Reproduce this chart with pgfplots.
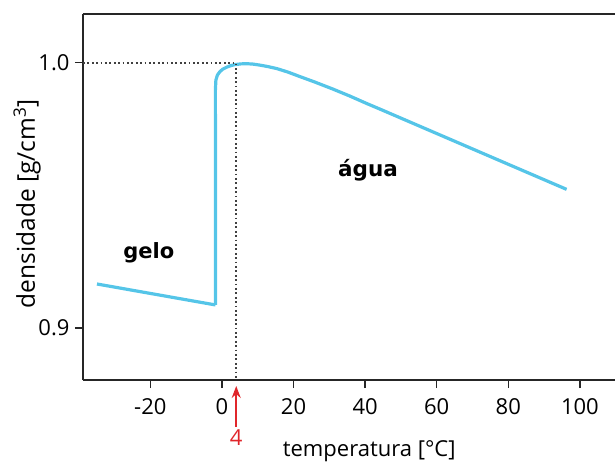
\documentclass[border=0pt]{standalone}
\usepackage{pgfplots}
\pgfplotsset{compat=1.18}
\usetikzlibrary{arrows.meta}
\usepackage{fontspec}
\setmainfont{Open Sans}
\newfontfamily\lblfont{DejaVu Sans}
\definecolor{agua}{HTML}{55C5E8}
\definecolor{seta}{HTML}{E0262B}

\begin{document}
\begin{tikzpicture}
\begin{axis}[
  name=ax,
  scale only axis,
  width=532bp, height=366bp,
  xmin=-38.8, xmax=109.8,
  ymin=0.8804, ymax=1.0184,
  axis x line=box, axis y line=left,
  axis line style={-, line width=1.3bp, black!85},
  xtick pos=left, ytick pos=left,
  tick align=outside,
  major tick length=8bp,
  every tick/.style={black!85, line width=1.3bp},
  xtick={-20,0,20,40,60,80,100},
  xticklabels={-20,0,20,40,60,80,100},
  ytick={0.9,1.0},
  yticklabels={0.9,1.0},
  tick label style={font=\fontsize{22bp}{24bp}\selectfont},
  xticklabel style={yshift=-7bp},
  yticklabel style={xshift=-2bp},
  xlabel={temperatura [°C]},
  ylabel={densidade [g/cm\textsuperscript{3}]},
  every axis x label/.style={at={(axis description cs:0.538,0)}, yshift=-71bp, anchor=center,
    font=\fontsize{22bp}{24bp}\selectfont},
  every axis y label/.style={at={(axis description cs:0,0.481)}, xshift=-56bp, rotate=90, anchor=center,
    font=\fontsize{24.5bp}{26bp}\selectfont},
  clip=false,
]
% gelo
\addplot[agua, line width=3.2bp, line join=round] coordinates {
  (-34.9,0.9166) (-1.8,0.9087)
};
% agua
\addplot[agua, line width=3.2bp, line join=round] coordinates {
  (-1.8,0.9087) (-1.82,0.98971) (-1.68,0.99348) (-1.26,0.99536) (-0.56,0.99668)
  (0.28,0.99763) (1.40,0.99838) (2.51,0.99895) (3.63,0.99932) (5.31,0.99959)
  (6.98,0.99966) (8.66,0.99951) (10.61,0.99913) (12.85,0.99857) (15.36,0.99781)
  (18.44,0.99650) (21.79,0.99480) (25.98,0.99273) (31.01,0.99009) (35.75,0.98745)
  (40.50,0.98462) (44.13,0.98255) (70.1,0.96747) (96.28,0.95228)
};
% linhas de referencia
\addplot[black!75, line width=1.8bp, dash pattern=on 1.8bp off 2.6bp] coordinates {
  (-38.8,1.0) (4,1.0) (4,0.8804)
};
\node[font=\lblfont\bfseries\fontsize{21bp}{24bp}\selectfont] at (axis cs:-20.4,0.9283) {gelo};
\node[font=\lblfont\bfseries\fontsize{21.5bp}{24bp}\selectfont] at (axis cs:40.8,0.9596) {água};
\draw[seta, line width=1.5bp, -{Stealth[length=12bp,width=9bp]}]
  ([yshift=-47bp]axis cs:4,0.8804) -- ([yshift=-6bp]axis cs:4,0.8804);
\node[seta, font=\fontsize{22bp}{24bp}\selectfont] at ([yshift=-58bp]axis cs:4,0.8804) {4};
\end{axis}
\pgfresetboundingbox
\path ([shift={(-83bp,-84bp)}]ax.south west) rectangle ([shift={(0bp,14bp)}]ax.north east);
\end{tikzpicture}
\end{document}
